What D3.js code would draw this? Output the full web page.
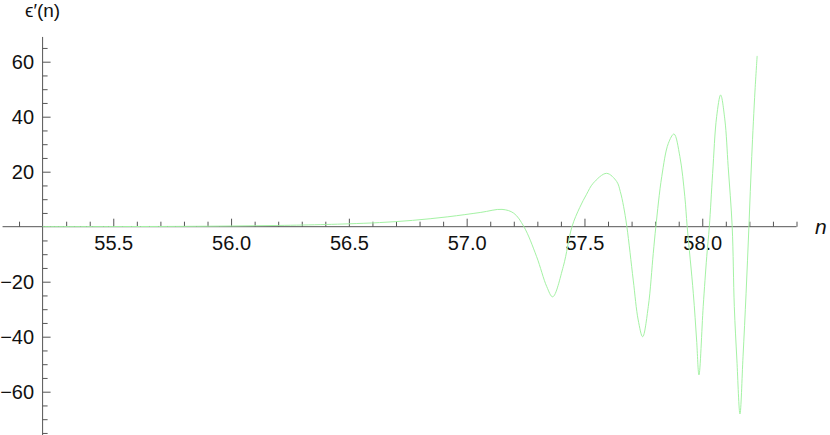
<!DOCTYPE html>
<html>
<head>
<meta charset="utf-8">
<script src="https://cdn.jsdelivr.net/npm/d3@7"></script>
<style>
  body { margin: 0; background: #fff; }
  svg { display: block; }
  .axis text { font-family: "Liberation Sans", Arial, sans-serif; font-size: 20px; fill: #111; }
  .axis line, .axis path { stroke: #555; }
</style>
</head>
<body>
<svg width="830" height="435"></svg>
<script>
// curve samples (n, eps'(n))
var nVals = [55.2, 55.5, 55.8, 56.0, 56.2, 56.4, 56.5, 56.63, 56.77, 56.92, 57.06, 57.15, 57.2, 57.243,
  57.297, 57.34, 57.365, 57.41, 57.447, 57.48, 57.509, 57.537, 57.594, 57.637, 57.652, 57.666, 57.68,
  57.707, 57.728, 57.747, 57.771, 57.792, 57.803, 57.828, 57.856, 57.88, 57.905, 57.926, 57.936,
  57.962, 57.976, 57.986, 58.004, 58.019, 58.03, 58.044, 58.061, 58.078, 58.096, 58.11, 58.127,
  58.136, 58.147, 58.16, 58.173, 58.186, 58.198, 58.21, 58.224, 58.233];
var epsVals = [0.02, 0.05, 0.12, 0.25, 0.45, 0.8, 1.05, 1.5, 2.3, 3.6, 5.2, 6.3, 4.9, 0,
  -10.9, -21.8, -25.5, -14.5, 0, 7, 11.8, 15.8, 19.4, 16.4, 12.8, 7.4, 0,
  -19.4, -33.9, -40, -29, -9.7, 0, 18.2, 30.3, 33.7, 25.5, 10.9, 0,
  -24.2, -41.2, -53.9, -29, -10.9, 0, 19.4, 40, 47.9, 38.8, 21.8, 0,
  -29, -48.5, -68.1, -47.3, -24.2, 0, 25.5, 49.7, 62.1];

var xMajor = [55.5, 56.0, 56.5, 57.0, 57.5, 58.0];
var xMinor = [55.1, 55.3, 55.4, 55.6, 55.7, 55.8, 55.9, 56.1, 56.2, 56.3, 56.4, 56.6, 56.7, 56.8, 56.9,
  57.1, 57.2, 57.3, 57.4, 57.6, 57.7, 57.8, 57.9, 58.1, 58.2, 58.3, 58.4];
var yMajor = [-60, -40, -20, 20, 40, 60];
var yMinor = [-75, -70, -65, -55, -50, -45, -35, -30, -25, -15, -10, -5, 5, 10, 15, 25, 30, 35, 45, 50, 55, 65];

var svg = d3.select("svg");

var x = d3.scaleLinear().domain([55.2, 58.4]).range([42.6, 796.5]);
var y = d3.scaleLinear().domain([0, 60]).range([226.7, 61.7]);

var data = nVals.map(function(n, i) { return {n: n, v: epsVals[i]}; });

// x axis
var gx = svg.append("g").attr("class", "axis").attr("transform", "translate(0," + y(0) + ")");
gx.append("line")
    .attr("x1", x(55.03)).attr("x2", x(58.4))
    .attr("y1", 0).attr("y2", 0);
gx.append("g")
    .call(d3.axisBottom(x).tickValues(xMinor).tickSize(-5).tickFormat(""))
    .call(function(g) { g.select(".domain").remove(); });
gx.append("g")
    .call(d3.axisBottom(x).tickValues(xMajor).tickSize(-8).tickPadding(9.5).tickFormat(d3.format(".1f")))
    .call(function(g) { g.select(".domain").remove(); });

// y axis
var gy = svg.append("g").attr("class", "axis").attr("transform", "translate(" + x(55.2) + ",0)");
gy.append("line")
    .attr("x1", 0).attr("x2", 0)
    .attr("y1", y(69)).attr("y2", y(-76));
gy.append("g")
    .call(d3.axisLeft(y).tickValues(yMinor).tickSize(-5).tickFormat(""))
    .call(function(g) { g.select(".domain").remove(); });
gy.append("g")
    .call(d3.axisLeft(y).tickValues(yMajor).tickSize(-8).tickPadding(8.5).tickFormat(d3.format("d")))
    .call(function(g) { g.select(".domain").remove(); });

svg.selectAll(".axis line").attr("stroke", "#555").attr("stroke-width", 1);

// curve
var line = d3.line()
    .x(function(d) { return x(d.n); })
    .y(function(d) { return y(d.v); })
    .curve(d3.curveCatmullRom.alpha(0.5));

svg.append("path")
    .datum(data)
    .attr("fill", "none")
    .attr("stroke", "#a4f2a4")
    .attr("stroke-width", 1)
    .attr("d", line);

// axis labels
svg.append("text")
    .attr("x", x(55.2))
    .attr("y", 17)
    .attr("text-anchor", "middle")
    .style("font", "19px 'Liberation Sans', Arial, sans-serif")
    .style("fill", "#111")
    .text("\u03f5\u2032(n)");

svg.append("text")
    .attr("x", 815)
    .attr("y", 234)
    .style("font", "italic 21px 'Liberation Sans', Arial, sans-serif")
    .style("fill", "#111")
    .text("n");
</script>
</body>
</html>
